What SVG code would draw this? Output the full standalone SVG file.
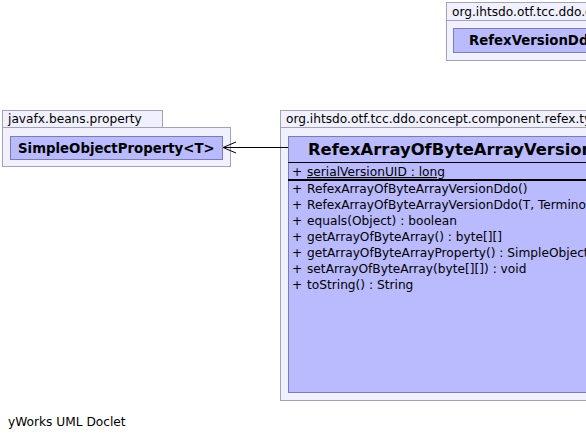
<svg xmlns="http://www.w3.org/2000/svg" width="586" height="439" viewBox="0 0 586 439">
<style>
.pkg{fill:#f0f0fe;stroke:#a3a3b8;stroke-width:1}
.cls{fill:#babaff;stroke:#7c7cb0;stroke-width:1}
.t{font-family:"DejaVu Sans",sans-serif;font-size:12.2px;fill:#000}
.b{font-family:"DejaVu Sans",sans-serif;font-weight:bold;font-size:13.3px;fill:#000}
.sep{stroke:#000;stroke-width:1}
</style>
<rect width="586" height="439" fill="#fff"/>
<g id="pkg-top">
<rect class="pkg" x="446.5" y="2.5" width="200" height="18"/>
<rect class="pkg" x="446.5" y="20.5" width="200" height="40"/>
<text class="t" x="452" y="16">org.ihtsdo.otf.tcc.ddo.concept.component.refex</text>
<g id="RefexVersionDdo">
<rect class="cls" x="453.5" y="28.5" width="200" height="24"/>
<text class="b" x="469" y="45">RefexVersionDdo</text>
</g>
</g>
<g id="pkg-javafx">
<rect class="pkg" x="2.5" y="110.5" width="160" height="17"/>
<rect class="pkg" x="2.5" y="127.5" width="228" height="39"/>
<text class="t" x="8" y="123">javafx.beans.property</text>
<g id="SimpleObjectProperty">
<rect class="cls" x="10.5" y="136.5" width="212" height="23"/>
<text class="b" x="18" y="153">SimpleObjectProperty&lt;T&gt;</text>
</g>
</g>
<g id="pkg-refex">
<rect class="pkg" x="280.5" y="110.5" width="400" height="17"/>
<rect class="pkg" x="280.5" y="127.5" width="400" height="273"/>
<text class="t" x="286" y="123">org.ihtsdo.otf.tcc.ddo.concept.component.refex.type_array_of_bytearray</text>
<g id="RefexArrayOfByteArrayVersionDdo">
<rect class="cls" x="288.5" y="136.5" width="400" height="256"/>
<text class="b" x="308" y="155" style="font-size:16.4px">RefexArrayOfByteArrayVersionDdo</text>
<line class="sep" x1="288" y1="162.5" x2="586" y2="162.5"/>
<text class="t" x="292" y="176">+</text>
<text class="t" x="307" y="176" text-decoration="underline">serialVersionUID : long</text>
<line x1="288" y1="180" x2="586" y2="180" stroke="#000" stroke-width="2"/>
<text class="t" x="292" y="193">+</text>
<text class="t" x="307" y="193">RefexArrayOfByteArrayVersionDdo()</text>
<text class="t" x="292" y="209">+</text>
<text class="t" x="307" y="209">RefexArrayOfByteArrayVersionDdo(T, TerminologySnapshotDI, RefexChronicleDdo)</text>
<text class="t" x="292" y="225">+</text>
<text class="t" x="307" y="225">equals(Object) : boolean</text>
<text class="t" x="292" y="241">+</text>
<text class="t" x="307" y="241">getArrayOfByteArray() : byte[][]</text>
<text class="t" x="292" y="257">+</text>
<text class="t" x="307" y="257">getArrayOfByteArrayProperty() : SimpleObjectProperty&lt;byte[][]&gt;</text>
<text class="t" x="292" y="273">+</text>
<text class="t" x="307" y="273">setArrayOfByteArray(byte[][]) : void</text>
<text class="t" x="292" y="289">+</text>
<text class="t" x="307" y="289">toString() : String</text>
</g>
</g>
<g id="connectors">
<line x1="288" y1="147.5" x2="223" y2="147.5" stroke="#000" stroke-width="1"/>
<polyline points="236,142 223,147.5 236,153" fill="none" stroke="#000" stroke-width="1"/>
</g>
<text class="t" x="8" y="426">yWorks UML Doclet</text>
</svg>
